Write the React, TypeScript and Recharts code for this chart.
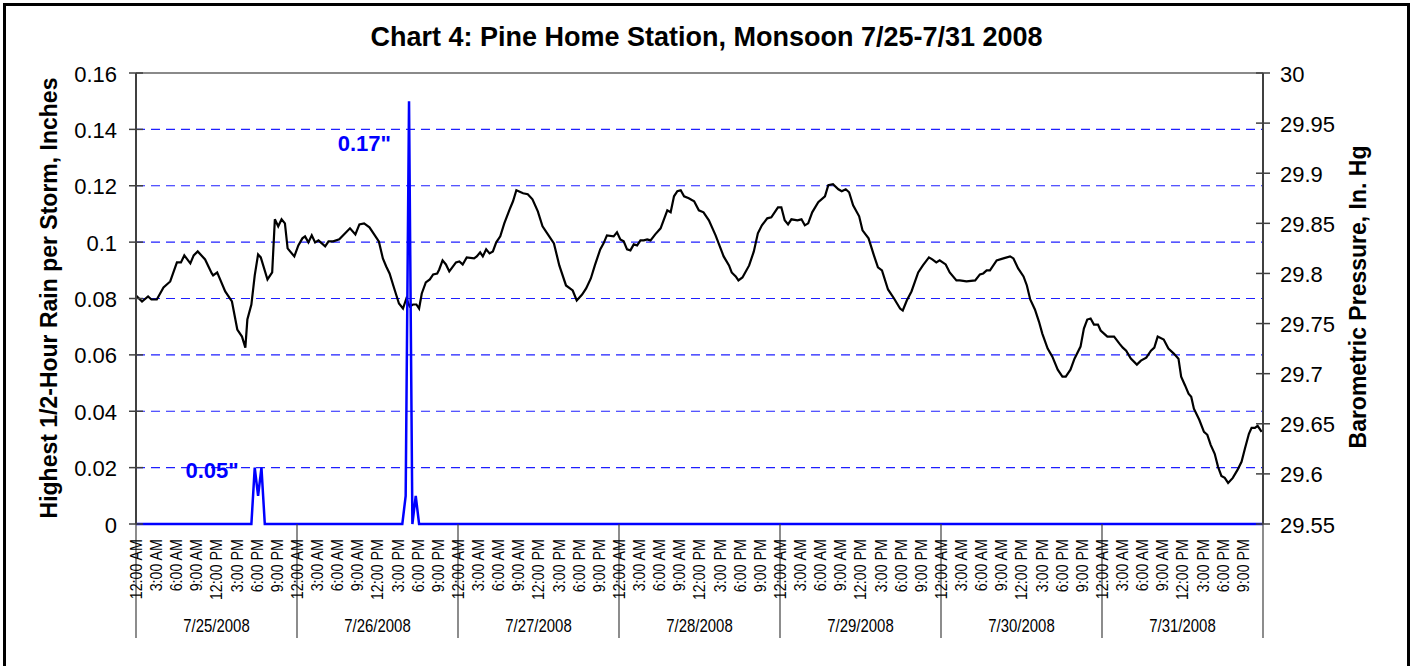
import React from 'react';
import { LineChart, Line, XAxis, YAxis, ReferenceLine } from 'recharts';

// ---------- axis / category data ----------
const dayLabels = ['7/25/2008', '7/26/2008', '7/27/2008', '7/28/2008', '7/29/2008', '7/30/2008', '7/31/2008'];
const timeLabels = ['12:00 AM', '3:00 AM', '6:00 AM', '9:00 AM', '12:00 PM', '3:00 PM', '6:00 PM', '9:00 PM'];
const hourTicks = [
  0, 3, 6, 9, 12, 15, 18, 21, 24, 27, 30, 33, 36, 39, 42, 45, 48, 51, 54, 57, 60, 63, 66, 69,
  72, 75, 78, 81, 84, 87, 90, 93, 96, 99, 102, 105, 108, 111, 114, 117, 120, 123, 126, 129,
  132, 135, 138, 141, 144, 147, 150, 153, 156, 159, 162, 165, 168,
];
const rainTicks = [0, 0.02, 0.04, 0.06, 0.08, 0.1, 0.12, 0.14, 0.16];
const rainTickLabels = ['0', '0.02', '0.04', '0.06', '0.08', '0.1', '0.12', '0.14', '0.16'];
const rainGridValues = [0.02, 0.04, 0.06, 0.08, 0.1, 0.12, 0.14];
const pressureTicks = [29.55, 29.6, 29.65, 29.7, 29.75, 29.8, 29.85, 29.9, 29.95, 30];
const pressureTickLabels = ['29.55', '29.6', '29.65', '29.7', '29.75', '29.8', '29.85', '29.9', '29.95', '30'];

// ---------- series data (hours since 7/25 12:00 AM) ----------
const pressureHours = [
  0.0, 0.9, 1.8, 2.3, 3.1, 4.1, 5.1, 6.1, 6.7, 7.2, 8.1, 8.6, 9.2, 10.3, 11.3, 11.5, 12.1, 13.3, 14.3, 15.1,
  15.8, 16.3, 16.6, 17.2, 17.7, 18.2, 18.6, 19.6, 20.3, 20.7, 21.2, 21.7, 22.2, 22.6, 23.6,
  24.2, 24.8, 25.2, 25.7, 26.2, 26.7, 27.2, 28.2, 28.7, 29.4, 30.3, 31.9, 32.7, 33.3, 34.0, 34.8, 35.5,
  36.2, 36.8, 37.3, 37.8, 38.4, 39.2, 39.8, 40.3, 40.8, 41.3, 41.8, 42.2, 42.6, 43.2, 43.8, 44.3, 44.9,
  45.2, 45.7, 46.2, 46.7, 47.7,
  48.2, 48.7, 49.3, 50.4, 50.8, 51.3, 51.7, 52.2, 52.7, 53.2, 53.7, 54.3, 54.9, 55.7, 56.2, 56.7, 57.7,
  58.4, 59.1, 59.9, 60.6, 61.4, 62.3, 63.1, 64.1, 65.1, 65.7, 66.5, 67.1, 67.8, 68.4, 69.2, 69.7, 70.2,
  71.2, 71.7,
  72.2, 72.7, 73.2, 73.7, 74.2, 74.7, 75.2, 75.7, 76.2, 76.7, 77.4, 78.2, 78.7, 79.2, 79.7, 80.2, 80.7,
  81.2, 81.7, 82.4, 83.2, 83.9, 84.6, 85.4, 86.4, 87.6, 88.4, 88.8, 89.4, 89.8, 90.4, 91.4, 92.1, 92.7,
  93.3, 94.1, 94.7, 95.2, 95.7,
  96.2, 96.7, 97.2, 97.7, 98.6, 99.2, 99.7, 100.2, 100.8, 101.7, 102.7, 103.2, 103.9, 104.7, 105.2, 105.8,
  106.3, 106.9, 107.8, 108.3, 109.2, 110.0, 110.6, 111.2, 112.1, 113.0, 113.9, 114.3, 114.9, 115.6, 116.6,
  117.3, 118.2, 118.7, 119.3, 119.8,
  120.7, 121.3, 122.3, 122.8, 123.8, 125.1, 125.8, 126.3, 126.8, 127.3, 128.3, 129.3, 130.3, 130.8, 131.5,
  132.3, 132.8, 133.3, 134.0, 134.6, 135.1, 135.9, 136.6, 137.4, 138.1, 138.6, 139.3, 139.9, 140.8, 141.3,
  141.8, 142.3, 142.8, 143.4,
  143.8, 144.3, 144.8, 145.8, 146.6, 147.1, 147.6, 148.3, 149.2, 149.8, 150.6, 151.3, 151.8, 152.3, 153.2,
  153.9, 154.7, 155.4, 155.8, 156.4, 156.9, 157.3, 157.7, 158.5, 159.2, 159.7, 160.2, 160.8, 161.3, 161.8,
  162.3, 162.8, 163.5, 164.2, 164.8, 165.3, 165.9, 166.3, 166.8, 167.2, 167.8,
];
const pressureInHg = [
  29.778, 29.772, 29.777, 29.774, 29.774, 29.786, 29.792, 29.811, 29.811, 29.818, 29.810, 29.818, 29.822,
  29.814, 29.800, 29.798, 29.801, 29.782, 29.772, 29.744,
  29.737, 29.726, 29.754, 29.769, 29.798, 29.819, 29.816, 29.794, 29.801, 29.854, 29.847, 29.854, 29.850,
  29.825, 29.817,
  29.828, 29.835, 29.837, 29.831, 29.838, 29.831, 29.833, 29.827, 29.832, 29.832, 29.834, 29.845, 29.839,
  29.849, 29.850, 29.846, 29.839,
  29.832, 29.815, 29.807, 29.800, 29.787, 29.770, 29.765, 29.775, 29.767, 29.769, 29.769, 29.765, 29.780,
  29.791, 29.794, 29.799, 29.800,
  29.804, 29.813, 29.809, 29.802, 29.811,
  29.812, 29.809, 29.816, 29.815, 29.817, 29.821, 29.817, 29.824, 29.820, 29.822, 29.831, 29.837, 29.850,
  29.864, 29.872, 29.883, 29.880,
  29.879, 29.874, 29.862, 29.847, 29.839, 29.830, 29.808, 29.788, 29.783, 29.773, 29.779, 29.785, 29.795,
  29.808, 29.824, 29.830, 29.838,
  29.837, 29.841,
  29.834, 29.832, 29.824, 29.823, 29.829, 29.828, 29.833, 29.833, 29.834, 29.833, 29.839, 29.845, 29.854,
  29.863, 29.861, 29.877, 29.882,
  29.883, 29.877, 29.875, 29.872, 29.863, 29.861, 29.853, 29.838, 29.817, 29.808, 29.801, 29.797, 29.793,
  29.796, 29.808, 29.822, 29.840,
  29.848, 29.855, 29.856, 29.861, 29.866,
  29.866, 29.853, 29.849, 29.854, 29.853, 29.854, 29.848, 29.850, 29.861, 29.871, 29.877, 29.888, 29.889,
  29.884, 29.882, 29.884,
  29.881, 29.868, 29.857, 29.843, 29.835, 29.818, 29.806, 29.803, 29.784, 29.775, 29.765, 29.763, 29.773,
  29.782, 29.801,
  29.808, 29.816, 29.814, 29.811, 29.813,
  29.809, 29.801, 29.793, 29.793, 29.792, 29.793, 29.799, 29.800, 29.803, 29.803, 29.813, 29.815, 29.817,
  29.815, 29.805,
  29.797, 29.788, 29.774, 29.764, 29.752, 29.740, 29.725, 29.717, 29.704, 29.697, 29.697, 29.704, 29.715,
  29.727, 29.745,
  29.754, 29.755, 29.749, 29.749,
  29.743, 29.740, 29.737, 29.737, 29.730, 29.726, 29.723, 29.715, 29.709, 29.713, 29.716, 29.723, 29.726,
  29.737, 29.734,
  29.725, 29.720, 29.715, 29.697, 29.688, 29.680, 29.677, 29.665, 29.654, 29.642, 29.639, 29.629, 29.620,
  29.607, 29.598,
  29.596, 29.591, 29.596, 29.604, 29.612, 29.625, 29.640, 29.646, 29.646, 29.648, 29.642,
];

const rainHours = [0, 17.2, 17.7, 18.2, 18.7, 19.2, 39.7, 40.2, 40.7, 41.2, 41.7, 42.2, 168];
const rainInches = [0, 0, 0.02, 0.01, 0.02, 0, 0, 0.01, 0.15, 0, 0.01, 0, 0];

const stormHours = [17.7, 40.7];
const stormTotals = ['0.05"', '0.17"'];

// ---------- styles ----------
const FONT = '"Liberation Sans", Arial, Helvetica, sans-serif';
const noteOffsets = [
  { dx: -16, dy: 10 },
  { dx: -18, dy: 50 },
];

const pressureData = pressureHours.map((t, i) => ({ t, p: pressureInHg[i] }));
const rainData = rainHours.map((t, i) => ({ t, r: rainInches[i] }));

function labelFor(values: number[], labels: string[], v: number) {
  const i = values.findIndex((x) => Math.abs(x - v) < 1e-6);
  return i >= 0 ? labels[i] : String(v);
}

function TimeTick(props: any) {
  const { x, y, payload } = props;
  const v = Math.round(payload.value);
  const parts: any[] = [];
  if (v % 24 === 0) {
    parts.push(<line key="sep" x1={x} x2={x} y1={y} y2={y + 114} stroke="#404040" strokeWidth={1.2} />);
  }
  if (v < 168) {
    const ly = y + 15;
    parts.push(
      <text
        key="t"
        x={0}
        y={0}
        transform={`translate(${x} ${ly}) rotate(-90) scale(0.84 1)`}
        textAnchor="end"
        dominantBaseline="central"
        fontSize={17}
        fill="#000"
      >
        {timeLabels[(v % 24) / 3]}
      </text>
    );
  }
  if (v % 24 === 12) {
    parts.push(
      <text
        key="d"
        x={0}
        y={0}
        transform={`translate(${x} ${y + 102}) scale(0.83 1)`}
        textAnchor="middle"
        dominantBaseline="central"
        fontSize={18}
        fill="#000"
      >
        {dayLabels[Math.floor(v / 24)]}
      </text>
    );
  }
  return <g>{parts}</g>;
}

function RainTick(props: any) {
  const { x, y, payload } = props;
  return (
    <g>
      <line x1={x - 7} x2={x + 7} y1={y} y2={y} stroke="#404040" strokeWidth={1.5} />
      <text x={x - 19} y={y + 1} textAnchor="end" dominantBaseline="central" fontSize={22} fill="#000">
        {labelFor(rainTicks, rainTickLabels, payload.value)}
      </text>
    </g>
  );
}

function PressureTick(props: any) {
  const { x, y, payload } = props;
  return (
    <g>
      <line x1={x - 7} x2={x + 7} y1={y} y2={y} stroke="#404040" strokeWidth={1.5} />
      <text x={x + 17} y={y + 1} textAnchor="start" dominantBaseline="central" fontSize={22} fill="#000">
        {labelFor(pressureTicks, pressureTickLabels, payload.value)}
      </text>
    </g>
  );
}

function StormDot(props: any) {
  const { cx, cy, payload, index } = props;
  const k = stormHours.findIndex((h) => Math.abs(h - payload.t) < 1e-6);
  if (k < 0 || cx == null || cy == null) return <g key={`sd${index}`} />;
  const off = noteOffsets[k];
  return (
    <text
      key={`sd${index}`}
      x={cx + off.dx}
      y={cy + off.dy}
      textAnchor="end"
      fontSize={22}
      fontWeight="bold"
      fill="#0000ff"
    >
      {stormTotals[k]}
    </text>
  );
}

const axisTitleStyle: React.CSSProperties = {
  position: 'absolute',
  width: 700,
  height: 26,
  lineHeight: '26px',
  textAlign: 'center',
  fontSize: 23,
  fontWeight: 'bold',
  transform: 'rotate(-90deg)',
  whiteSpace: 'nowrap',
  color: '#000',
};

export default function App() {
  return (
    <div
      style={{
        position: 'absolute',
        left: 0,
        top: 0,
        width: 1413,
        height: 666,
        overflow: 'hidden',
        background: '#fff',
        fontFamily: FONT,
      }}
    >
      <div
        style={{
          position: 'absolute',
          left: 3,
          top: 3,
          width: 1407,
          height: 700,
          border: '3px solid #000',
          boxSizing: 'border-box',
        }}
      />
      <div
        style={{
          position: 'absolute',
          left: 0,
          top: 24,
          width: 1413,
          textAlign: 'center',
          fontSize: 27,
          lineHeight: '27px',
          fontWeight: 'bold',
          color: '#000',
        }}
      >
        Chart 4: Pine Home Station, Monsoon 7/25-7/31 2008
      </div>
      <div style={{ ...axisTitleStyle, left: 49 - 350, top: 298 - 13 }}>
        Highest 1/2-Hour Rain per Storm, Inches
      </div>
      <div style={{ ...axisTitleStyle, left: 1358 - 350, top: 297 - 13 }}>
        Barometric Pressure, In. Hg
      </div>
      <div style={{ position: 'absolute', left: 0, top: 0 }}>
        <LineChart width={1413} height={666} margin={{ top: 73, right: 0, bottom: 22, left: 0 }}>
          <XAxis
            xAxisId="t"
            type="number"
            dataKey="t"
            domain={[0, 168]}
            ticks={hourTicks}
            interval={0}
            height={120}
            tickSize={0}
            tickMargin={0}
            tickLine={false}
            axisLine={false}
            tick={<TimeTick />}
          />
          <YAxis
            yAxisId="rain"
            orientation="left"
            width={136}
            type="number"
            domain={[0, 0.16]}
            ticks={rainTicks}
            interval={0}
            tickSize={0}
            tickMargin={0}
            tickLine={false}
            axisLine={{ stroke: '#404040', strokeWidth: 2 }}
            tick={<RainTick />}
          />
          <YAxis
            yAxisId="pressure"
            orientation="right"
            width={150}
            type="number"
            domain={[29.55, 30]}
            ticks={pressureTicks}
            interval={0}
            tickSize={0}
            tickMargin={0}
            tickLine={false}
            axisLine={{ stroke: '#404040', strokeWidth: 2 }}
            tick={<PressureTick />}
          />
          {rainGridValues.map((v) => (
            <ReferenceLine
              key={`g${v}`}
              xAxisId="t"
              yAxisId="rain"
              y={v}
              stroke="#1f1fff"
              strokeWidth={1.2}
              strokeDasharray="9 6"
            />
          ))}
          <ReferenceLine xAxisId="t" yAxisId="rain" y={0.16} stroke="#8a8a8a" strokeWidth={2} />
          <Line
            xAxisId="t"
            yAxisId="pressure"
            data={pressureData}
            dataKey="p"
            type="linear"
            stroke="#000"
            strokeWidth={2.2}
            dot={false}
            activeDot={false}
            isAnimationActive={false}
          />
          <Line
            xAxisId="t"
            yAxisId="rain"
            data={rainData}
            dataKey="r"
            type="linear"
            stroke="#0000ff"
            strokeWidth={2.5}
            dot={(p: any) => <StormDot key={`sd${p.index}`} {...p} />}
            activeDot={false}
            isAnimationActive={false}
          />
        </LineChart>
      </div>
    </div>
  );
}
